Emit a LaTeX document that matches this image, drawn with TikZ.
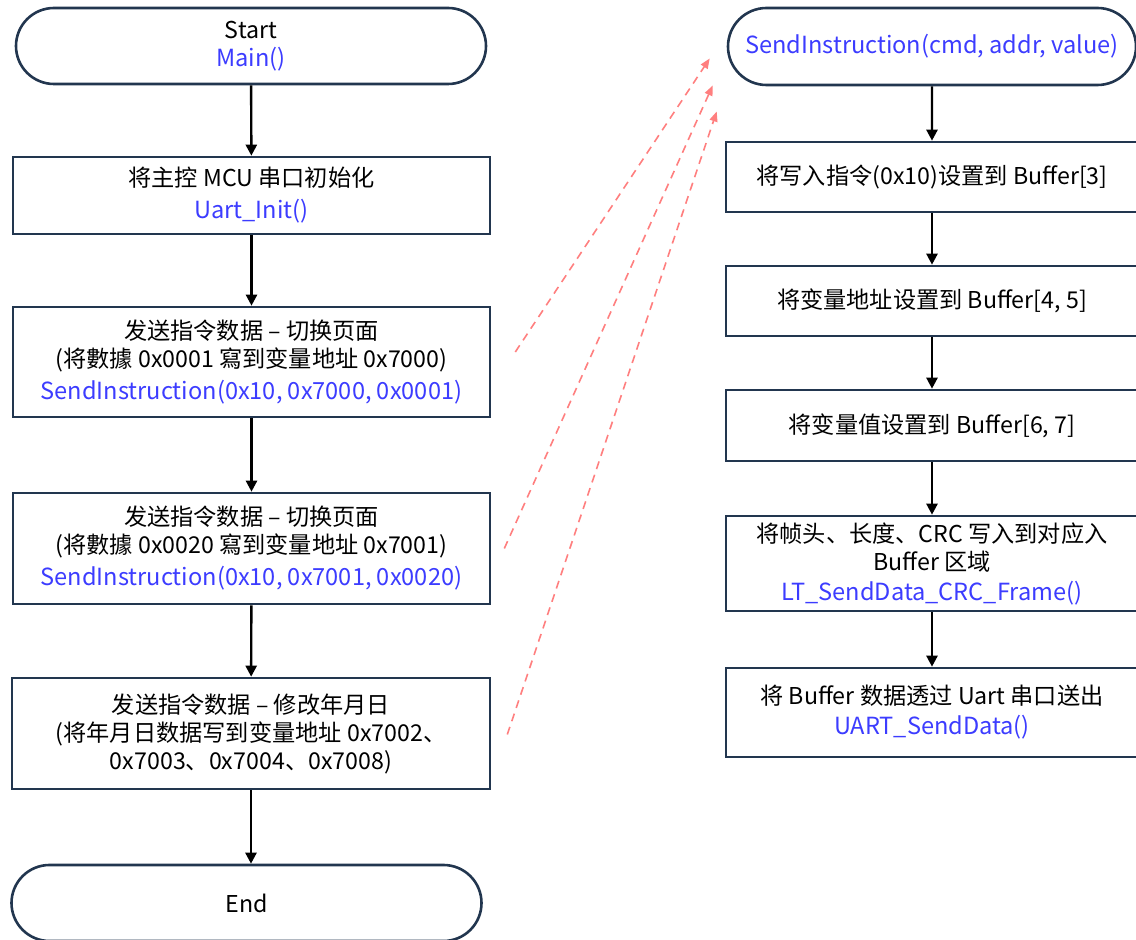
\documentclass[tikz,border=0pt]{standalone}
\usepackage{fontspec}
\setmainfont{Noto Sans CJK SC}
\usetikzlibrary{positioning, arrows.meta, calc, shapes.misc}
\definecolor{boxline}{HTML}{22364F}
\definecolor{fnblue}{HTML}{3C3CFF}
\definecolor{linkred}{HTML}{FF7F7F}
\newcommand{\fncall}[1]{{\fontsize{11.8}{14}\selectfont\color{fnblue}#1}}

\begin{document}
\begin{tikzpicture}[x=0.5pt, y=-0.5pt,
	terminal/.style={rounded rectangle, draw=boxline, line width=1.3pt, align=center,
		minimum height=38pt, inner sep=2pt, font=\fontsize{11.6}{14}\selectfont},
	process/.style={rectangle, draw=boxline, line width=1.3pt, align=center,
		inner sep=2pt, font=\fontsize{11.6}{14}\selectfont},
	flow/.style={-{Triangle[length=5.5pt, width=5.5pt]}, line width=1.2pt, black},
	link/.style={-{Triangle[length=5pt, width=4pt]}, line width=0.8pt, linkred,
		dash pattern=on 4pt off 3pt}]
	
	\useasboundingbox (0,0) rectangle (1136,940);
	
	% Main flow
	\node[terminal, minimum width=239pt] (start) at (251,46) {Start\\ \fncall{Main()}};
	\node[process, minimum width=238.5pt, minimum height=38.5pt] (init) at (251.5,195.5)
		{将主控 MCU 串口初始化\\[2pt] \fncall{Uart\_Init()}};
	\node[process, minimum width=238.5pt, minimum height=55pt] (page1) at (251.5,362)
		{发送指令数据 – 切换页面\\ (将數據 0x0001 寫到变量地址 0x7000)\\[2pt]
		\fncall{SendInstruction(0x10, 0x7000, 0x0001)}};
	\node[process, minimum width=238.5pt, minimum height=55.5pt] (page2) at (251.5,548.5)
		{发送指令数据 – 切换页面\\ (将數據 0x0020 寫到变量地址 0x7001)\\[2pt]
		\fncall{SendInstruction(0x10, 0x7001, 0x0020)}};
	\node[process, minimum width=239pt, minimum height=55.5pt] (date) at (251,733.5)
		{发送指令数据 – 修改年月日\\ (将年月日数据写到变量地址 0x7002、\\ 0x7003、0x7004、0x7008)};
	\node[terminal, minimum width=239pt] (end) at (246.5,903) {End};
	
	% SendInstruction flow
	\node[terminal, minimum width=208pt, minimum height=38.5pt] (func) at (932,46.5)
		{\fncall{SendInstruction(cmd, addr, value)}};
	\node[process, minimum width=206pt, minimum height=35pt] (cmd) at (932,177)
		{将写入指令(0x10)设置到 Buffer[3]};
	\node[process, minimum width=206pt, minimum height=35pt] (addr) at (932,301)
		{将变量地址设置到 Buffer[4, 5]};
	\node[process, minimum width=206pt, minimum height=35.5pt] (value) at (932,425.5)
		{将变量值设置到 Buffer[6, 7]};
	\node[process, minimum width=206pt, minimum height=47.5pt] (crc) at (932,563.5)
		{将帧头、长度、CRC 写入到对应入\\ Buffer 区域\\[1pt] \fncall{LT\_SendData\_CRC\_Frame()}};
	\node[process, minimum width=206pt, minimum height=44.5pt] (uart) at (932,712.5)
		{将 Buffer 数据透过 Uart 串口送出\\[1pt] \fncall{UART\_SendData()}};
	
	% Connections
	\draw[flow] (start) -- (init);
	\draw[flow] (init) -- (page1);
	\draw[flow] (page1) -- (page2);
	\draw[flow] (page2) -- (date);
	\draw[flow] (date) -- (date.south |- end.north);
	
	\draw[flow] (func) -- (cmd);
	\draw[flow] (cmd) -- (addr);
	\draw[flow] (addr) -- (value);
	\draw[flow] (value) -- (crc);
	\draw[flow] (crc) -- (uart);
	
	% Calls into SendInstruction
	\coordinate (call1) at ($(page1.east)+(24,-10)$);
	\coordinate (call2) at ($(page2.east)+(13,0)$);
	\coordinate (call3) at ($(date.east)+(16,1)$);
	\coordinate (tip1) at ($(func.west)+(-17,12)$);
	\coordinate (tip2) at ($(func.west)+(-14,39)$);
	\coordinate (tip3) at ($(func.west)+(-10,65)$);
	\draw[link] (call1) -- (tip1);
	\draw[link] (call2) -- (tip2);
	\draw[link] (call3) -- (tip3);
\end{tikzpicture}
\end{document}
